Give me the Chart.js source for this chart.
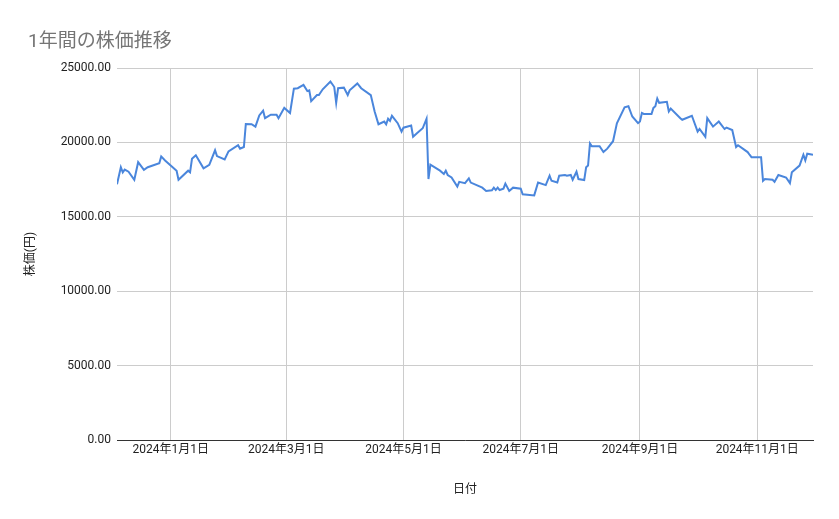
<!DOCTYPE html>
<html><head><meta charset="utf-8">
<script src="https://cdn.jsdelivr.net/npm/chart.js@4"></script>
<style>body{margin:0;background:#fff;font-family:Roboto,"Noto Sans CJK JP",sans-serif}#w{position:relative;width:839px;height:519px}#t{position:absolute;left:28px;top:25px;font-size:19px;color:#757575;font-family:Roboto,"Noto Sans CJK JP",sans-serif}</style>
</head><body><div id="w"><canvas id="c" width="839" height="519"></canvas><div id="t">1年間の株価推移</div></div>
<script>
// days offset from 2024-01-01
const dayOffsets=[-28,-26,-25,-24,-22,-19,-17,-14,-12,-6,-5,-3,3,4,9,10,11,13,17,20,23,24,28,30,35,36,38,39,42,44,46,48,49,52,55,56,59,62,64,66,69,71,72,73,76,77,79,83,85,86,87,90,92,93,97,99,104,106,108,111,112,113,114,115,118,120,121,125,126,128,131,133,134,135,140,142,143,144,146,149,150,153,155,156,162,164,167,168,169,170,171,173,174,176,178,182,183,189,191,195,197,198,201,202,205,206,208,209,211,212,215,216,217,218,219,223,225,227,230,232,236,238,240,243,244,245,246,250,251,252,253,254,258,259,260,265,266,271,274,275,278,279,282,285,288,289,292,294,295,300,301,302,307,308,309,313,314,316,320,322,323,327,329,330,331,334];
const prices=[17190,18330,17990,18170,18030,17490,18670,18150,18330,18600,19060,18790,18100,17490,18100,17990,18900,19130,18260,18490,19470,19080,18850,19400,19810,19580,19690,21240,21220,21060,21810,22130,21630,21860,21860,21630,22320,21980,23610,23640,23860,23450,23500,22770,23180,23180,23570,24090,23720,22660,23640,23680,23180,23500,23960,23640,23180,22080,21220,21400,21220,21590,21450,21790,21290,20720,20990,21130,20380,20610,20950,21590,17540,18510,18100,17880,18100,17810,17640,17030,17350,17260,17580,17300,16960,16740,16780,16960,16800,16960,16800,16890,17230,16740,16960,16890,16510,16440,17300,17130,17760,17420,17300,17760,17810,17760,17810,17490,18030,17540,17470,18330,18440,19930,19740,19740,19350,19580,20080,21290,22360,22430,21740,21290,21400,21980,21910,21910,22320,22430,22950,22660,22730,22080,22270,21630,21520,21790,20720,20900,20380,21630,21060,21400,20900,20990,20830,19690,19810,19350,19170,19010,19010,17420,17540,17490,17350,17810,17640,17260,17990,18440,19170,18790,19240,19170];
const tickDays=[0,60,121,182,244,305];
const tickLabels=['2024年1月1日','2024年3月1日','2024年5月1日','2024年7月1日','2024年9月1日','2024年11月1日'];
const font={family:'Roboto,"Noto Sans CJK JP",sans-serif',size:12};
new Chart(document.getElementById('c'),{type:'line',
data:{datasets:[{data:dayOffsets.map((d,i)=>({x:d,y:prices[i]})),borderColor:'#4a86dc',borderWidth:2,pointRadius:0,tension:0}]},
options:{responsive:false,animation:false,layout:{padding:{left:20,right:26,top:68,bottom:18}},
plugins:{legend:{display:false},tooltip:{enabled:false}},
scales:{
x:{type:'linear',min:-28,max:334,afterBuildTicks:s=>{s.ticks=tickDays.map(v=>({value:v}))},
 ticks:{autoSkip:false,maxRotation:0,color:'#222',font,callback:(v)=>tickLabels[tickDays.indexOf(v)]},
 grid:{color:'#ccc',drawTicks:false},border:{color:'#333'},
 title:{display:true,text:'日付',color:'#222',font,padding:{top:22}},afterFit:s=>{s.height=61}},
y:{min:0,max:25000,ticks:{stepSize:5000,color:'#222',font,padding:6,callback:v=>v.toFixed(2)},
 grid:{color:'#ccc',drawTicks:false},border:{display:false},
 title:{display:true,text:'株価(円)',color:'#222',font},afterFit:s=>{s.width=97}}
}}});
</script></body></html>
